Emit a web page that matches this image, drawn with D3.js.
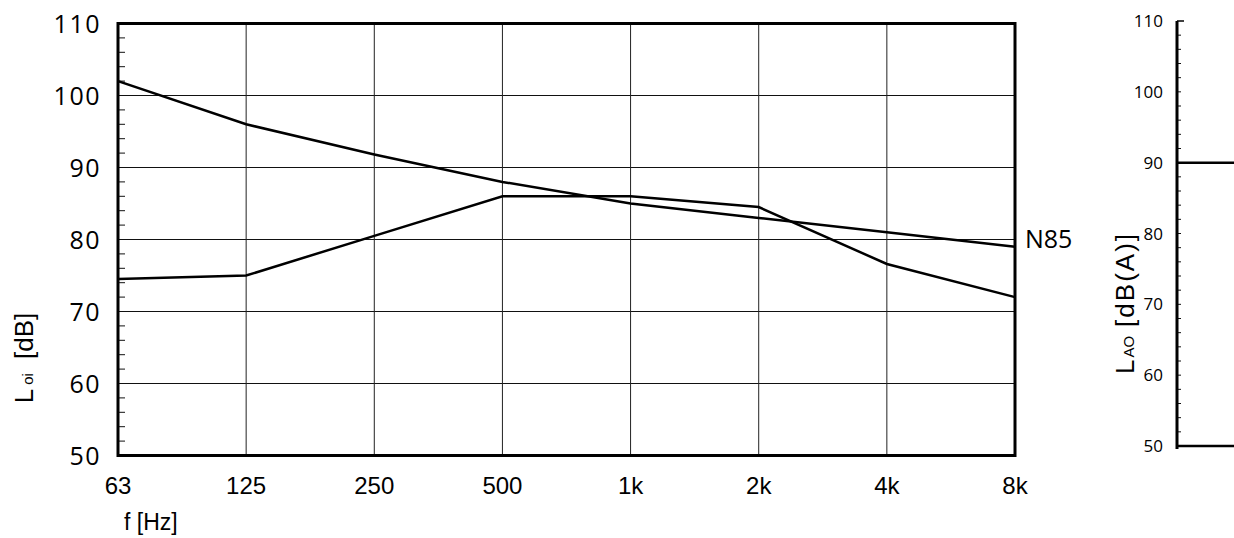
<!DOCTYPE html>
<html><head><meta charset="utf-8">
<script src="https://cdn.jsdelivr.net/npm/d3@7"></script>
<style>body{margin:0;background:#fff}svg{display:block}</style>
</head><body>
<svg id="c" width="1234" height="538"></svg>
<script>
const freqLabels = ["63","125","250","500","1k","2k","4k","8k"];
const n85Values = [102, 96, 91.8, 88, 85, 83, 81, 79];
const spectrumValues = [74.5, 75, 80.5, 86, 86, 84.5, 76.6, 72];
const yTicks = [50,60,70,80,90,100,110];
const lAoLevel = [90];

const svg = d3.select("#c");
const x = d3.scalePoint().domain(freqLabels).range([118, 1015]);
const y = d3.scaleLinear().domain([50,110]).range([455.5, 23.5]);
const numFont = "'Open Sans', 'Noto Sans', sans-serif";
const xFont = "'Liberation Sans', Arial, sans-serif";

// grid
const g = svg.append("g");
g.selectAll("line.h").data(yTicks.slice(1,-1)).join("line")
  .attr("x1",118).attr("x2",1015).attr("y1",d=>y(d)).attr("y2",d=>y(d))
  .attr("stroke","#111").attr("stroke-width",1);
g.selectAll("line.v").data(freqLabels.slice(1,-1)).join("line")
  .attr("x1",d=>x(d)).attr("x2",d=>x(d)).attr("y1",y(110)).attr("y2",y(50))
  .attr("stroke","#222").attr("stroke-width",1);

// minor ticks on left axis
const minor = d3.range(50,110,2).filter(v=>v%10!==0);
g.selectAll("line.m").data(minor).join("line")
  .attr("x1",118).attr("x2",125).attr("y1",d=>y(d)).attr("y2",d=>y(d))
  .attr("stroke","#111").attr("stroke-width",1);

// frame
g.append("rect").attr("x",118).attr("y",y(110)).attr("width",1015-118).attr("height",y(50)-y(110))
  .attr("fill","none").attr("stroke","#000").attr("stroke-width",3);

// y labels
g.selectAll("text.y").data(yTicks).join("text")
  .attr("x",101).attr("y",d=>y(d)).attr("dy","0.36em").attr("text-anchor","end")
  .attr("font-family",numFont).attr("font-size",25).attr("letter-spacing","1.5px").text(d=>d);

// x labels
g.selectAll("text.x").data(freqLabels).join("text")
  .attr("x",d=>x(d)).attr("y",494).attr("text-anchor","middle")
  .attr("font-family",xFont).attr("font-size",24).text(d=>d);

g.append("text").attr("x",124).attr("y",530).attr("font-family",xFont).attr("font-size",23)
  .text("f [Hz]");

// y title
const yt = g.append("text").attr("transform","translate(33,358) rotate(-90)")
  .attr("text-anchor","middle").attr("font-family",xFont).attr("font-size",26);
yt.append("tspan").text("L");
yt.append("tspan").attr("font-size",15).attr("dx",4).text("oi");
yt.append("tspan").attr("dx",14).text("[dB]");

// lines
const line = d3.line().x((d,i)=>x(freqLabels[i])).y(d=>y(d));
g.append("path").attr("d",line(n85Values)).attr("fill","none").attr("stroke","#000").attr("stroke-width",2.5);
g.append("path").attr("d",line(spectrumValues)).attr("fill","none").attr("stroke","#000").attr("stroke-width",2.5);

g.append("text").attr("x",1025).attr("y",y(n85Values[7])).attr("dy","0.05em")
  .attr("font-family",numFont).attr("font-size",25).text("N85");

// right chart
const y2 = d3.scaleLinear().domain([50,110]).range([446, 21]);
const ax = 1177;
const r = svg.append("g");
r.selectAll("line.m2").data(d3.range(52,110,2)).join("line")
  .attr("x1",ax).attr("x2",ax+4).attr("y1",d=>y2(d)).attr("y2",d=>y2(d))
  .attr("stroke","#111").attr("stroke-width",1);
r.append("line").attr("x1",ax).attr("x2",ax+7).attr("y1",y2(110)).attr("y2",y2(110)).attr("stroke","#000").attr("stroke-width",1.5);
r.selectAll("line.lv").data(lAoLevel).join("line")
  .attr("x1",ax).attr("x2",1234).attr("y1",d=>y2(d)).attr("y2",d=>y2(d)).attr("stroke","#000").attr("stroke-width",2.5);
r.append("line").attr("x1",ax).attr("x2",1234).attr("y1",y2(50)).attr("y2",y2(50)).attr("stroke","#000").attr("stroke-width",2.5);
r.append("line").attr("x1",ax).attr("x2",ax).attr("y1",y2(110)).attr("y2",y2(50)+3).attr("stroke","#000").attr("stroke-width",3);
r.selectAll("text.y2").data(yTicks).join("text")
  .attr("x",1163).attr("y",d=>y2(d)).attr("dy","0.36em").attr("text-anchor","end")
  .attr("font-family",numFont).attr("font-size",17).text(d=>d);
const yt2 = r.append("text").attr("transform","translate(1134,303) rotate(-90)")
  .attr("text-anchor","middle").attr("font-family",xFont).attr("font-size",26);
yt2.append("tspan").text("L");
yt2.append("tspan").attr("font-size",15).attr("dx",2).text("AO");
yt2.append("tspan").attr("dx",9).attr("letter-spacing","2px").text("[dB(A)]");
</script>
</body></html>
